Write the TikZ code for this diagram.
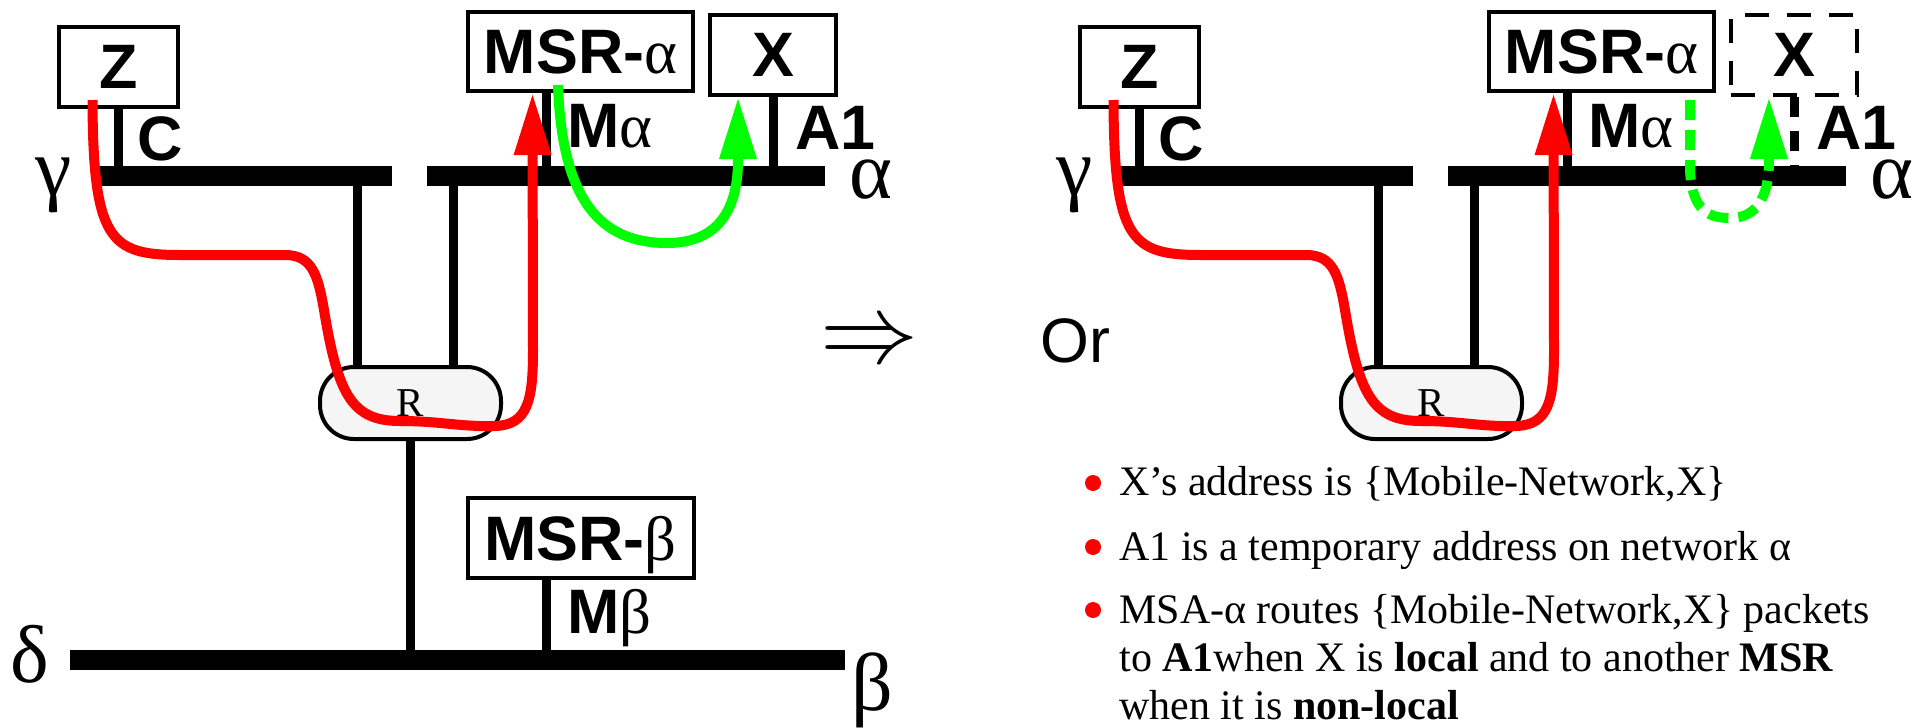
\documentclass[tikz,border=0pt]{standalone}
\usepackage{fontspec}
\setmainfont{Liberation Serif}
\setsansfont{Liberation Sans}
\usetikzlibrary{arrows.meta,calc}
\newcommand{\grk}[1]{{\rmfamily\mdseries #1}}

\begin{document}
\begin{tikzpicture}[x=0.5pt, y=-0.5pt,
    box/.style={draw, line width=2pt, inner sep=0pt, text depth=0pt,
        minimum width=112.5pt, minimum height=39.5pt,
        font=\sffamily\bfseries\fontsize{31.4}{31.4}\selectfont},
    lbl/.style={inner sep=0pt, anchor=base west,
        font=\sffamily\bfseries\fontsize{31.4}{31.4}\selectfont},
    greek/.style={inner sep=0pt, anchor=base, font=\fontsize{41}{41}\selectfont},
    bus/.style={line width=10pt},
    stub/.style={line width=4.5pt},
    router/.style={draw, line width=2pt, rounded corners=17pt, fill=gray!8,
        minimum width=90.5pt, minimum height=36pt, inner sep=0pt,
        font=\fontsize{20.5}{20.5}\selectfont},
    flow/.style={line width=5pt, -{Triangle[width=17.5pt,length=31pt]}},
    bullet/.style={circle, fill=red, inner sep=0pt, minimum size=8pt},
    note/.style={inner sep=0pt, anchor=base west, align=left,
        font=\fontsize{21}{24}\selectfont}]
    \useasboundingbox (0,0) rectangle (1923,728);

    % parts shared by both panels
    \foreach \p/\dx in {l/0, r/1021} {
    \begin{scope}[shift={(\dx,0)}]
        \draw[bus] (98,176) coordinate (g1\p) -- (392,176) coordinate (g2\p);
        \draw[bus] (427,176) coordinate (a1\p) -- (825,176) coordinate (a2\p);
        \node[greek] (gam\p) at (54,195) {γ};
        \node[greek] (alp\p) at (871,198) {α};

        \node[box, minimum width=59.5pt, minimum height=40pt] (Z\p) at (118.5,67) {Z};
        \node[box] (MSRa\p) at (580.5,51.5) {MSR-\grk{α}};
        \node[router] (R\p) at (410.5,403) {R};

        \draw[stub] (Z\p.south) -- (Z\p.south |- g1\p);
        \draw[stub] ([xshift=-17.25pt]MSRa\p.south) -- ([xshift=-17.25pt]MSRa\p.south |- a1\p);
        \draw[stub] ([xshift=-26.75pt]R\p.north) -- ([xshift=-26.75pt]R\p.north |- g1\p);
        \draw[stub] ([xshift=21.25pt]R\p.north) -- ([xshift=21.25pt]R\p.north |- a1\p);

        \node[lbl] (C\p) at (137,160) {C};
        \node[lbl] (Ma\p) at (567,147) {M\grk{α}};
        \node[lbl] (A1\p) at (795,149) {A1};

        \draw[flow, red] ([xshift=-13pt,yshift=4.5pt]Z\p.south)
            .. controls (93,240) and (110,255) .. (180,255) -- (285,255)
            .. controls (312,255) and (318,275) .. (324,310)
            .. controls (338,395) and (352,421) .. (400,421)
            .. controls (440,421) and (460,427) .. (495,426)
            .. controls (528,425) and (533,400) .. (533,350)
            -- ([xshift=-24pt]MSRa\p.south);
    \end{scope}
    }

    % left panel
    \node[box, minimum width=63pt, minimum height=40pt] (Xl) at (773,55) {X};
    \draw[stub] (Xl.south) -- (Xl.south |- a2l);
    \draw[flow, green] ([xshift=-11.25pt,yshift=4pt]MSRal.south)
        .. controls (562,200) and (600,243) .. (667,243)
        .. controls (725,243) and (738,200) .. (738,160)
        -- ([xshift=-17.5pt]Xl.south);

    \draw[bus] (70,660) coordinate (d1) -- (845,660) coordinate (d2);
    \node[greek] (del) at (30,682) {δ};
    \node[greek] (bet) at (872,710) {β};
    \draw[stub] (Rl.south) -- (Rl.south |- d1);
    \node[box, minimum width=113pt, minimum height=40pt] (MSRbl) at (580.5,538) {MSR-\grk{β}};
    \draw[stub] ([xshift=-17pt]MSRbl.south) -- ([xshift=-17pt]MSRbl.south |- d1);
    \node[lbl] (Mbl) at (567,633) {M\grk{β}};

    \node[inner sep=0pt] (imp) at (869,345) {\scalebox{4.9}{$\Rightarrow$}};

    % right panel
    \node[lbl, font=\sffamily\fontsize{31.4}{31.4}\selectfont] (or) at (1040,362) {Or};
    \node[box, minimum width=63pt, minimum height=40pt, dash pattern=on 12pt off 9pt] (Xr) at (1794,55) {X};
    \draw[stub, dash pattern=on 10pt off 7pt] (Xr.south) -- (Xr.south |- a2r);
    \draw[flow, green, dash pattern=on 10pt off 5pt] ([xshift=44.25pt,yshift=-3.5pt]MSRar.south)
        -- (1690,170)
        .. controls (1692,212) and (1710,218) .. (1730,218)
        .. controls (1755,218) and (1769,200) .. (1769,160)
        -- ([xshift=-12.5pt]Xr.south);

    \node[bullet] (b1) at (1093,483) {};
    \node[note] (t1) at (1119,495) {X’s address is \{Mobile-Network,X\}};
    \node[bullet] (b2) at (1093,547) {};
    \node[note] (t2) at (1119,560) {A1 is a temporary address on network α};
    \node[bullet] (b3) at (1093,610) {};
    \node[note] (t3) at (1119,719) {MSA-α routes \{Mobile-Network,X\} packets\\
        to \textbf{A1}when X is \textbf{local} and to another \textbf{MSR}\\
        when it is \textbf{non-local}};
\end{tikzpicture}
\end{document}
